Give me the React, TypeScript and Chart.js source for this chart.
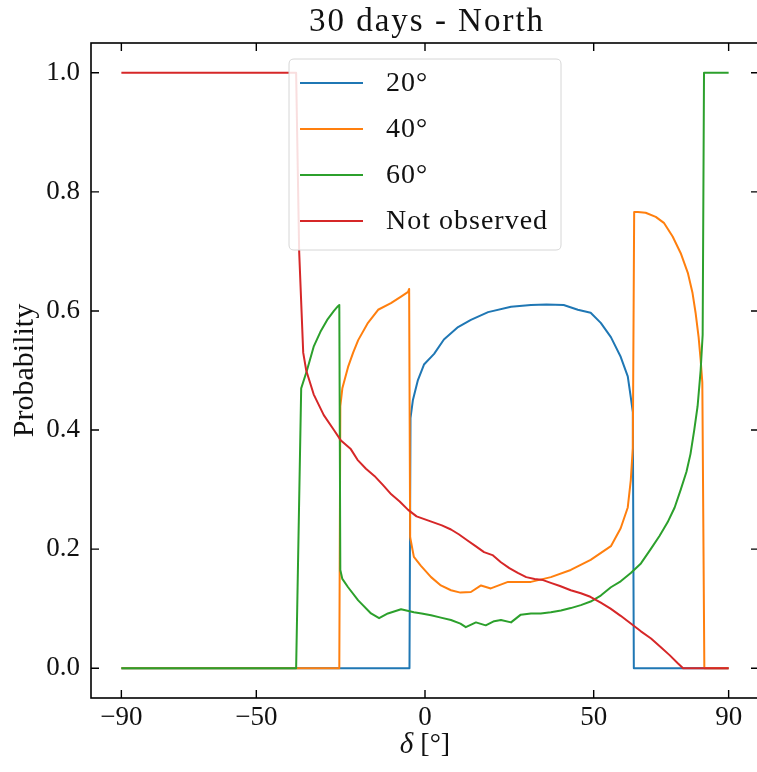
import React, { useEffect, useRef } from "react";
import { Chart, registerables } from "chart.js";

Chart.register(...registerables);

// ---------------- data ----------------
const seriesLabels = ["20°", "40°", "60°", "Not observed"];
const seriesColors = ["#1f77b4", "#ff7f0e", "#2ca02c", "#d62728"];

const blueX = [-90, -4.6, -4.3, -3.6, -2.1, -0.3, 2.7, 5.6, 9.8, 13.6, 18.7, 25.5, 31.4, 36, 41.1, 45.3, 49.1, 52.1, 55.1, 58, 60.1, 61, 61.6, 61.9, 90];
const blueY = [0, 0, 0.42, 0.45, 0.484, 0.51, 0.528, 0.552, 0.573, 0.585, 0.598, 0.607, 0.61, 0.611, 0.61, 0.602, 0.597, 0.58, 0.556, 0.523, 0.49, 0.455, 0.43, 0, 0];

const orangeX = [-90, -25.4, -25.1, -24.5, -22.8, -21.3, -19.8, -16.9, -13.9, -10.1, -7.1, -5.0, -4.7, -4.4, -3.3, -1.2, 1.8, 4.7, 7.7, 10.5, 13.6, 16.6, 19.5, 24.6, 31.4, 37.3, 43.2, 49.1, 55.1, 58, 60.1, 61, 61.6, 62.0, 63.1, 65.4, 68.4, 70.8, 73.4, 75.8, 77.9, 79.3, 80.2, 81.1, 81.7, 82.2, 82.8, 90];
const orangeY = [0, 0, 0.44, 0.47, 0.506, 0.53, 0.551, 0.58, 0.602, 0.613, 0.624, 0.632, 0.637, 0.22, 0.187, 0.172, 0.153, 0.139, 0.131, 0.127, 0.128, 0.139, 0.134, 0.145, 0.145, 0.153, 0.165, 0.182, 0.205, 0.235, 0.27, 0.316, 0.37, 0.766, 0.766, 0.765, 0.758, 0.748, 0.725, 0.697, 0.664, 0.63, 0.597, 0.556, 0.518, 0.48, 0, 0];

const greenX = [-90, -38.2, -36.7, -35, -33, -31, -29, -27, -25.8, -25.4, -25.1, -24.5, -22.8, -19.8, -16, -13.6, -11, -7.1, -3.3, -1, 1.8, 4.7, 7.7, 10.5, 12.1, 15.1, 18, 20.5, 22.5, 25.5, 28.4, 31.4, 34.3, 37.3, 40.3, 43.2, 46.2, 49.1, 52.1, 55.1, 58, 61, 64, 66.9, 69.5, 71.9, 74, 75.8, 77.5, 78.7, 79.8, 80.8, 81.7, 82.3, 82.7, 90];
const greenY = [0, 0, 0.47, 0.50, 0.54, 0.565, 0.585, 0.60, 0.608, 0.61, 0.165, 0.15, 0.136, 0.114, 0.092, 0.084, 0.092, 0.099, 0.094, 0.092, 0.089, 0.085, 0.081, 0.075, 0.069, 0.077, 0.072, 0.079, 0.081, 0.077, 0.090, 0.092, 0.092, 0.094, 0.097, 0.101, 0.106, 0.112, 0.122, 0.136, 0.146, 0.16, 0.176, 0.2, 0.222, 0.245, 0.27, 0.3, 0.33, 0.36, 0.40, 0.44, 0.5, 0.56, 1.0, 1.0];

const redX = [-90, -38.2, -37.3, -36.1, -35.2, -33, -30, -27, -25, -22, -20, -17.5, -15, -12.5, -10, -7.5, -5, -2.5, 0, 2.5, 5, 7.7, 10, 12.5, 15, 17.5, 20, 22.5, 25, 27.5, 30, 32.5, 35, 37.5, 40, 43.2, 46.2, 49, 52.1, 55, 58, 61, 64, 67, 70, 72.5, 75, 76.5, 90];
const redY = [1.0, 1.0, 0.70, 0.53, 0.50, 0.46, 0.425, 0.40, 0.383, 0.368, 0.35, 0.335, 0.323, 0.308, 0.292, 0.28, 0.266, 0.255, 0.25, 0.245, 0.24, 0.233, 0.225, 0.215, 0.205, 0.195, 0.19, 0.178, 0.168, 0.16, 0.153, 0.15, 0.148, 0.143, 0.138, 0.131, 0.126, 0.12, 0.11, 0.1, 0.088, 0.075, 0.062, 0.05, 0.035, 0.022, 0.008, 0, 0];

const xTickValues = [-90, -50, 0, 50, 90];
const yTickValues = [0, 0.2, 0.4, 0.6, 0.8, 1.0];

const titleText = "30 days - North";
const xAxisSymbol = "δ";
const xAxisUnit = " [°]";
const yAxisTitle = "Probability";

// ---------------- helpers ----------------
const SERIF = "'Liberation Serif', 'Times New Roman', serif";
const TEXT = "#111";

function toPoints(xs: number[], ys: number[]) {
  return xs.map((x, i) => ({ x, y: ys[i] }));
}

const decorPlugin = {
  id: "decor",
  afterDraw(chart: any) {
    const { ctx, chartArea: a, scales } = chart;
    ctx.save();

    // legend box
    const bx = 289, by = 59, bw = 272, bh = 191, r = 5;
    ctx.beginPath();
    ctx.moveTo(bx + r, by);
    ctx.lineTo(bx + bw - r, by);
    ctx.quadraticCurveTo(bx + bw, by, bx + bw, by + r);
    ctx.lineTo(bx + bw, by + bh - r);
    ctx.quadraticCurveTo(bx + bw, by + bh, bx + bw - r, by + bh);
    ctx.lineTo(bx + r, by + bh);
    ctx.quadraticCurveTo(bx, by + bh, bx, by + bh - r);
    ctx.lineTo(bx, by + r);
    ctx.quadraticCurveTo(bx, by, bx + r, by);
    ctx.closePath();
    ctx.fillStyle = "rgba(255,255,255,0.85)";
    ctx.fill();
    ctx.strokeStyle = "#d6d6d6";
    ctx.lineWidth = 1;
    ctx.stroke();

    const ds = chart.data.datasets;
    ctx.font = `28px ${SERIF}`;
    (ctx as any).letterSpacing = "1px";
    ctx.textBaseline = "middle";
    ctx.textAlign = "left";
    for (let i = 0; i < ds.length; i++) {
      const y = 83 + i * 46;
      ctx.strokeStyle = ds[i].borderColor;
      ctx.lineWidth = 2.2;
      ctx.beginPath();
      ctx.moveTo(300, y);
      ctx.lineTo(363, y);
      ctx.stroke();
      ctx.fillStyle = TEXT;
      ctx.fillText(ds[i].label, 386, y + 1);
    }

    // title
    ctx.font = `33px ${SERIF}`;
    (ctx as any).letterSpacing = "2px";
    ctx.textAlign = "center";
    ctx.textBaseline = "alphabetic";
    ctx.fillStyle = TEXT;
    ctx.fillText(titleText, 427, 31);
    (ctx as any).letterSpacing = "0px";

    // x axis title: italic symbol + upright unit
    const cx = scales.x.getPixelForValue(0);
    ctx.textAlign = "left";
    ctx.textBaseline = "middle";
    ctx.font = `italic 29px ${SERIF}`;
    const w1 = ctx.measureText(xAxisSymbol).width;
    ctx.font = `28px ${SERIF}`;
    const w2 = ctx.measureText(xAxisUnit).width;
    const sx = cx - (w1 + w2) / 2;
    ctx.font = `italic 29px ${SERIF}`;
    ctx.fillText(xAxisSymbol, sx, 745);
    ctx.font = `28px ${SERIF}`;
    ctx.fillText(xAxisUnit, sx + w1, 745);

    // frame
    ctx.strokeStyle = "#000";
    ctx.lineWidth = 1.6;
    ctx.strokeRect(a.left, a.top, a.right - a.left, a.bottom - a.top);

    // inward ticks on all four sides
    ctx.lineWidth = 1.4;
    ctx.beginPath();
    for (const v of xTickValues) {
      const p = scales.x.getPixelForValue(v);
      ctx.moveTo(p, a.bottom);
      ctx.lineTo(p, a.bottom - 8);
      ctx.moveTo(p, a.top);
      ctx.lineTo(p, a.top + 8);
    }
    for (const v of yTickValues) {
      const p = scales.y.getPixelForValue(v);
      ctx.moveTo(a.left, p);
      ctx.lineTo(a.left + 8, p);
      ctx.moveTo(a.right, p);
      ctx.lineTo(a.right - 8, p);
    }
    ctx.stroke();
    ctx.restore();
  },
};

export default function App() {
  const canvasRef = useRef<HTMLCanvasElement | null>(null);

  useEffect(() => {
    const canvas = canvasRef.current;
    if (!canvas) return;
    const series = [
      { xs: blueX, ys: blueY },
      { xs: orangeX, ys: orangeY },
      { xs: greenX, ys: greenY },
      { xs: redX, ys: redY },
    ];
    const chart = new Chart(canvas, {
      type: "line",
      data: {
        datasets: series.map((s, i) => ({
          label: seriesLabels[i],
          data: toPoints(s.xs, s.ys),
          borderColor: seriesColors[i],
          backgroundColor: seriesColors[i],
          borderWidth: 2,
          pointRadius: 0,
          tension: 0,
          fill: false,
          borderJoinStyle: "round",
          order: seriesLabels.length - 1 - i,
        })),
      },
      options: {
        animation: false,
        responsive: false,
        devicePixelRatio: 1,
        events: [],
        layout: { padding: { left: 0, right: 13, top: 43, bottom: 0 } },
        plugins: {
          legend: { display: false },
          tooltip: { enabled: false },
          title: { display: false },
        },
        scales: {
          x: {
            type: "linear",
            min: -99,
            max: 99,
            grid: { display: false, drawTicks: false },
            border: { display: false },
            afterFit: (scale: any) => {
              scale.height = 74;
            },
            afterBuildTicks: (scale: any) => {
              scale.ticks = xTickValues.map((v) => ({ value: v }));
            },
            ticks: {
              padding: 4,
              color: TEXT,
              font: { family: SERIF, size: 27 },
              maxRotation: 0,
              autoSkip: false,
              callback: (v: any) => {
                const n = Number(v);
                return n < 0 ? "\u2212" + Math.abs(n) : String(n);
              },
            },
            title: { display: false },
          },
          y: {
            type: "linear",
            min: -0.05,
            max: 1.05,
            grid: { display: false, drawTicks: false },
            border: { display: false },
            afterFit: (scale: any) => {
              scale.width = 91;
            },
            afterBuildTicks: (scale: any) => {
              scale.ticks = yTickValues.map((v) => ({ value: v }));
            },
            ticks: {
              padding: 11,
              color: TEXT,
              font: { family: SERIF, size: 27 },
              autoSkip: false,
              callback: (v: any) => Number(v).toFixed(1),
            },
            title: {
              display: true,
              text: yAxisTitle,
              color: TEXT,
              font: { family: SERIF, size: 30 },
              padding: 7,
            },
          },
        },
      },
      plugins: [decorPlugin],
    });
    return () => chart.destroy();
  }, []);

  return (
    <div
      style={{
        position: "fixed",
        left: 0,
        top: 0,
        width: 757,
        height: 772,
        overflow: "hidden",
        background: "#fff",
      }}
    >
      <canvas
        ref={canvasRef}
        width={772}
        height={772}
        style={{ width: 772, height: 772, display: "block" }}
      />
    </div>
  );
}
